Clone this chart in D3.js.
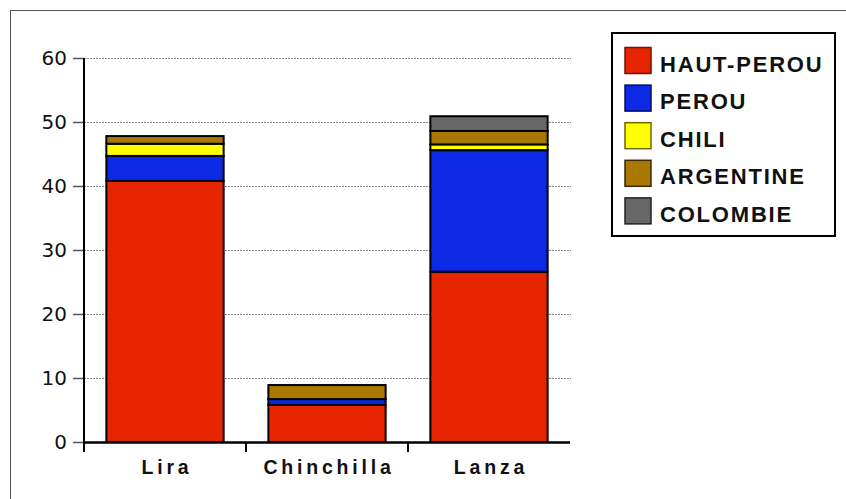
<!doctype html>
<html lang="fr">
<head>
    <meta charset="UTF-8">
    <title>Provenance</title>
    <script src="https://d3js.org/d3.v7.min.js"></script>
    <style>
        body { margin: 0; background: #fff; }
        svg { display: block; }
    </style>
</head>
<body>
<script>
    var width = 846;
    var height = 499;

    // donnees
    var sites = ['Lira', 'Chinchilla', 'Lanza'];
    var series = ['HAUT-PEROU', 'PEROU', 'CHILI', 'ARGENTINE', 'COLOMBIE'];
    var hautPerou = [40.8, 5.8, 26.6];
    var perou     = [3.9, 0.9, 19.0];
    var chili     = [1.9, 0, 0.9];
    var argentine = [1.2, 2.2, 2.1];
    var colombie  = [0, 0, 2.3];
    var yTicks = [0, 10, 20, 30, 40, 50, 60];

    var colors = ['#e62400', '#0c2ae6', '#ffff00', '#a87800', '#676767'];
    var swatchStroke = ['#7a1000', '#001060', '#6a6a00', '#3a2800', '#222222'];

    var rows = sites.map(function(s, i) {
        return {
            site: s,
            'HAUT-PEROU': hautPerou[i],
            'PEROU': perou[i],
            'CHILI': chili[i],
            'ARGENTINE': argentine[i],
            'COLOMBIE': colombie[i]
        };
    });

    var svg = d3.select('body').append('svg')
        .attr('width', width)
        .attr('height', height);

    // cadre exterieur
    svg.append('rect')
        .attr('x', 10.5).attr('y', 10.5)
        .attr('width', width).attr('height', height)
        .attr('fill', 'none')
        .attr('stroke', '#555');

    var plotLeft = 84, plotRight = 570, plotTop = 58, plotBottom = 442;

    var y = d3.scaleLinear().domain([0, 60]).range([plotBottom, plotTop]);
    var x = d3.scaleBand().domain(sites).range([plotLeft, plotRight]).padding(0);
    var barW = x.bandwidth() * 0.724;

    // grille
    svg.append('g')
        .selectAll('line')
        .data(yTicks.filter(function(d) { return d > 0; }))
        .enter().append('line')
        .attr('x1', plotLeft).attr('x2', plotRight + 1)
        .attr('y1', function(d) { return y(d) + 0.5; })
        .attr('y2', function(d) { return y(d) + 0.5; })
        .attr('stroke', '#8a8a8a')
        .attr('stroke-dasharray', '2,1');

    // axe y
    var yAxis = svg.append('g')
        .attr('transform', 'translate(' + plotLeft + ',0)')
        .call(d3.axisLeft(y).tickValues(yTicks).tickSize(11).tickPadding(6));
    yAxis.select('.domain').remove();
    yAxis.selectAll('.tick line').attr('stroke', '#555').attr('stroke-width', 1.5);
    yAxis.selectAll('.tick text')
        .attr('font-family', 'DejaVu Sans')
        .attr('font-size', 20)
        .attr('fill', '#111');

    svg.append('line')
        .attr('x1', plotLeft).attr('x2', plotLeft)
        .attr('y1', plotTop).attr('y2', plotBottom + 10)
        .attr('stroke', '#000').attr('stroke-width', 2);

    // barres empilees
    var stacked = d3.stack().keys(series)(rows);

    svg.append('g')
        .selectAll('g')
        .data(stacked)
        .enter().append('g')
        .attr('fill', function(d, i) { return colors[i]; })
        .selectAll('rect')
        .data(function(d) { return d.filter(function(p) { return p[1] - p[0] > 0; }); })
        .enter().append('rect')
        .attr('x', function(d) { return x(d.data.site) + (x.bandwidth() - barW) / 2; })
        .attr('width', barW)
        .attr('y', function(d) { return y(d[1]); })
        .attr('height', function(d) { return y(d[0]) - y(d[1]); })
        .attr('stroke', '#000')
        .attr('stroke-width', 2);

    // axe x
    svg.append('line')
        .attr('x1', plotLeft).attr('x2', plotRight)
        .attr('y1', plotBottom + 0.5).attr('y2', plotBottom + 0.5)
        .attr('stroke', '#000').attr('stroke-width', 2.5);

    svg.append('g')
        .selectAll('line')
        .data(sites.slice(1))
        .enter().append('line')
        .attr('x1', function(d) { return x(d); })
        .attr('x2', function(d) { return x(d); })
        .attr('y1', plotBottom).attr('y2', plotBottom + 10)
        .attr('stroke', '#000').attr('stroke-width', 2);

    svg.append('g')
        .selectAll('text')
        .data(sites)
        .enter().append('text')
        .attr('x', function(d) { return x(d) + x.bandwidth() / 2 + 2; })
        .attr('y', 473.5)
        .attr('text-anchor', 'middle')
        .attr('font-family', 'Liberation Sans')
        .attr('font-weight', 'bold')
        .attr('font-size', 19.5)
        .attr('letter-spacing', 3.8)
        .attr('fill', '#111')
        .text(function(d) { return d; });

    // legende
    var legend = svg.append('g');
    legend.append('rect')
        .attr('x', 612).attr('y', 33)
        .attr('width', 223).attr('height', 203)
        .attr('fill', '#fff')
        .attr('stroke', '#000')
        .attr('stroke-width', 2);

    var item = legend.selectAll('g.item')
        .data(series)
        .enter().append('g')
        .attr('class', 'item')
        .attr('transform', function(d, i) { return 'translate(0,' + (i * 37.6) + ')'; });

    item.append('rect')
        .attr('x', 625).attr('y', 47.5)
        .attr('width', 26).attr('height', 26)
        .attr('fill', function(d, i) { return colors[i]; })
        .attr('stroke', function(d, i) { return swatchStroke[i]; })
        .attr('stroke-width', 1.5);

    item.append('text')
        .attr('x', 660).attr('y', 71.5)
        .attr('font-family', 'Liberation Sans')
        .attr('font-weight', 'bold')
        .attr('font-size', 22)
        .attr('letter-spacing', 1.8)
        .attr('fill', '#111')
        .text(function(d) { return d; });
</script>
</body>
</html>
